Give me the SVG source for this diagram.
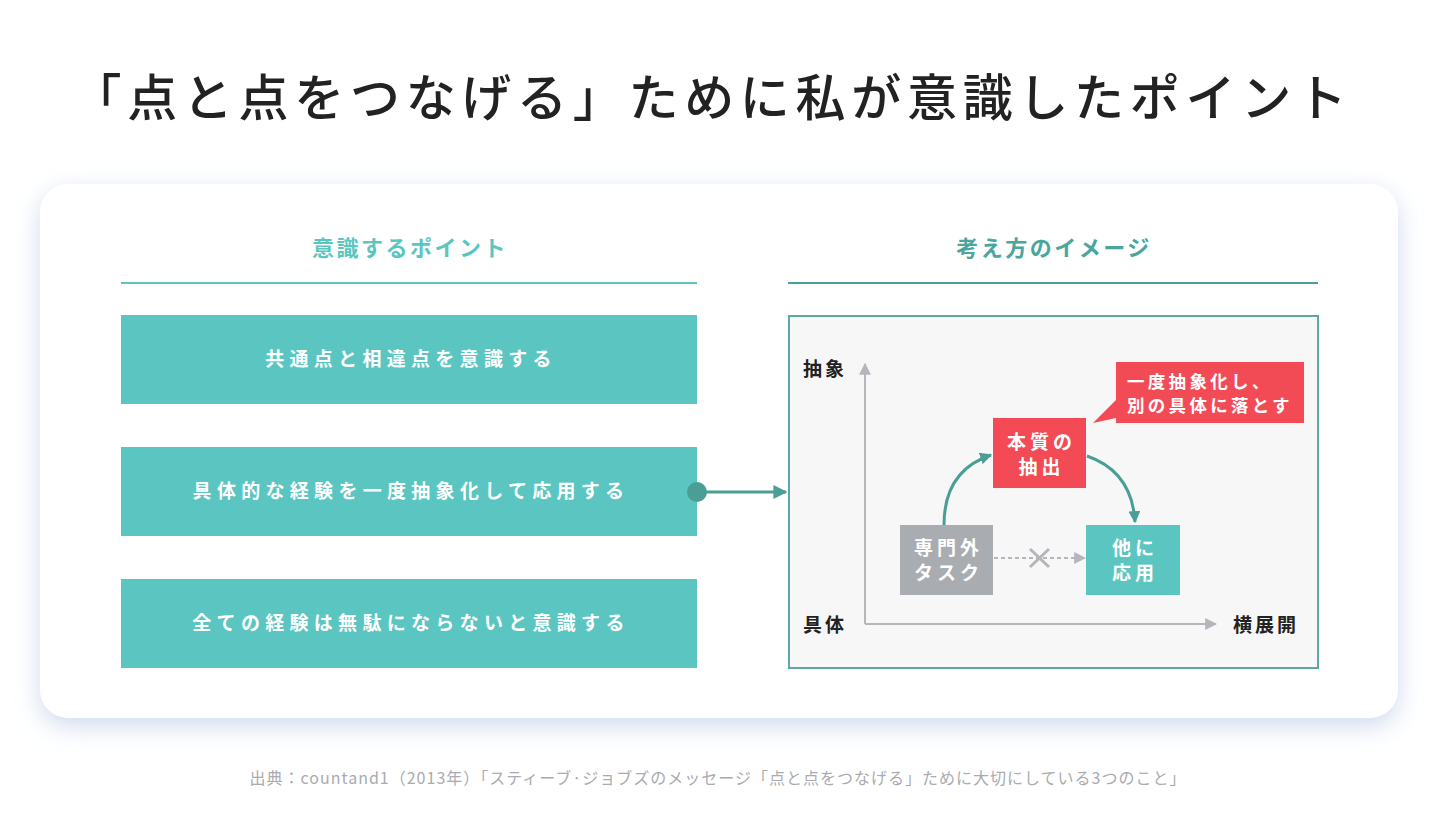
<svg xmlns="http://www.w3.org/2000/svg" width="1440" height="815" viewBox="0 0 1440 815">
<defs>
<filter id="sh" x="-10%" y="-20%" width="120%" height="140%">
<feDropShadow dx="0" dy="8" stdDeviation="12" flood-color="#c6d0ea" flood-opacity="0.8"/>
</filter>
<marker id="ah" viewBox="0 0 10 10" refX="9" refY="5" markerWidth="12" markerHeight="12" markerUnits="userSpaceOnUse" orient="auto"><path d="M0,0 L10,5 L0,10 z" fill="#4a9e96"/></marker>
<marker id="ahL" viewBox="0 0 10 10" refX="9" refY="5" markerWidth="14" markerHeight="14" markerUnits="userSpaceOnUse" orient="auto"><path d="M0,0 L10,5 L0,10 z" fill="#4a9e96"/></marker>
<marker id="ahG" viewBox="0 0 10 10" refX="9" refY="5" markerWidth="12" markerHeight="12" markerUnits="userSpaceOnUse" orient="auto"><path d="M0,0 L10,5 L0,10 z" fill="#b3b6ba"/></marker>
</defs>
<style>
text{font-family:"Noto Sans CJK JP","Noto Sans",sans-serif;}
.title{font-size:50px;font-weight:500;fill:#222;letter-spacing:5.7px;}
.hdl{font-size:22px;font-weight:700;fill:#5bc6c0;letter-spacing:2.5px;}
.hdr{font-size:22px;font-weight:700;fill:#4aa59d;letter-spacing:2.5px;}
.bt{font-size:19px;font-weight:700;fill:#fff;letter-spacing:5.3px;}
.lbl{font-size:19px;font-weight:700;fill:#222;letter-spacing:3px;}
.nt{font-size:19px;font-weight:700;fill:#fff;letter-spacing:4px;}
.ct{font-size:17.5px;font-weight:700;fill:#fff;letter-spacing:3.3px;}
.tealbox{fill:#5bc6c1;}
.conn{fill:none;stroke:#4a9e96;stroke-width:3;}
.axis{fill:none;stroke:#b3b6ba;stroke-width:2;}
.foot{font-size:16px;fill:#a9abaf;letter-spacing:1px;}
</style>
<rect width="1440" height="815" fill="#ffffff"/>
<text class="title" x="712" y="116" text-anchor="middle">「点と点をつなげる」ために私が意識したポイント</text>
<rect x="40" y="184" width="1358" height="534" rx="28" fill="#fff" filter="url(#sh)"/>
<g id="header-left">
<text class="hdl" x="410" y="256" text-anchor="middle">意識するポイント</text>
<line x1="121" y1="283" x2="697" y2="283" stroke="#5bc6c0" stroke-width="2"/>
</g>
<g id="header-right">
<text class="hdr" x="1054" y="256" text-anchor="middle">考え方のイメージ</text>
<line x1="788" y1="283" x2="1318" y2="283" stroke="#4a9f98" stroke-width="2"/>
</g>
<g id="point1"><rect class="tealbox" x="121" y="315" width="576" height="89"/><text class="bt" x="411" y="366" text-anchor="middle">共通点と相違点を意識する</text></g>
<g id="point2"><rect class="tealbox" x="121" y="447" width="576" height="89"/><text class="bt" x="411" y="498" text-anchor="middle">具体的な経験を一度抽象化して応用する</text></g>
<g id="point3"><rect class="tealbox" x="121" y="579" width="576" height="89"/><text class="bt" x="411" y="630" text-anchor="middle">全ての経験は無駄にならないと意識する</text></g>
<g id="panel"><rect x="789" y="316" width="529" height="352" fill="#f7f7f7" stroke="#5aa9a3" stroke-width="2"/></g>
<g id="axes">
<path class="axis" d="M865 624 L865 364" marker-end="url(#ahG)"/>
<path class="axis" d="M865 624 L1216 624" marker-end="url(#ahG)"/>
<text class="lbl" x="803" y="376">抽象</text>
<text class="lbl" x="803" y="632">具体</text>
<text class="lbl" x="1233" y="632">横展開</text>
</g>
<g id="node-essence"><rect x="993" y="418" width="93" height="70" fill="#f34b56"/><text class="nt" x="1041.5" y="449" text-anchor="middle">本質の</text><text class="nt" x="1041.5" y="474" text-anchor="middle">抽出</text></g>
<g id="node-callout"><path d="M1116 362 H1304 V423 H1116 V418 L1093 423 L1116 400 Z" fill="#f34b56"/><text class="ct" x="1127" y="388">一度抽象化し、</text><text class="ct" x="1127" y="412">別の具体に落とす</text></g>
<g id="node-task"><rect x="900" y="525" width="93" height="70" fill="#a9acb0"/><text class="nt" x="948.5" y="555" text-anchor="middle">専門外</text><text class="nt" x="948.5" y="580" text-anchor="middle">タスク</text></g>
<g id="node-apply"><rect class="tealbox" x="1086" y="525" width="94" height="70"/><text class="nt" x="1135" y="555" text-anchor="middle">他に</text><text class="nt" x="1135" y="580" text-anchor="middle">応用</text></g>
<g id="connectors">
<circle cx="697" cy="492" r="10" fill="#4a9e96"/>
<path class="conn" d="M697 492 L786 492" marker-end="url(#ahL)"/>
<path class="conn" d="M944 525 C944 490 958 466 991 455" marker-end="url(#ah)"/>
<path class="conn" d="M1087 456 C1116 466 1133 488 1135 522" marker-end="url(#ah)"/>
<path d="M994 558 L1085 558" fill="none" stroke="#b3b6ba" stroke-width="2" stroke-dasharray="4 3" marker-end="url(#ahG)"/>
<path d="M1030 549 L1049 567 M1049 549 L1030 567" stroke="#b3b6ba" stroke-width="3" fill="none"/>
</g>
<text class="foot" x="718" y="784" text-anchor="middle">出典：countand1（2013年）「スティーブ·ジョブズのメッセージ「点と点をつなげる」ために大切にしている3つのこと」</text>
</svg>
